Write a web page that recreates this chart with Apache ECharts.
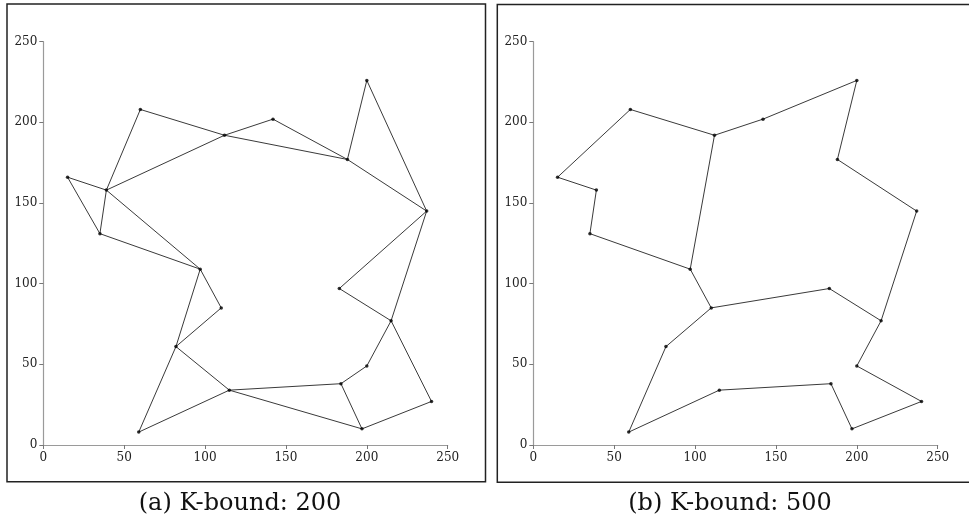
<!DOCTYPE html>
<html>
<head>
<meta charset="utf-8">
<script src="https://cdn.jsdelivr.net/npm/echarts@6/dist/echarts.min.js"></script>
<style>
html,body{margin:0;padding:0;background:#fff;}
#chart{width:969px;height:528px;}
</style>
</head>
<body>
<div id="chart"></div>
<script>
// Node coordinates (same city set in both panels)
const nodeX = [60, 142, 200, 112, 188, 237, 15, 39, 35, 97, 110, 82, 59, 115, 184, 200, 215, 183, 197, 240];
const nodeY = [208, 202, 226, 192, 177, 145, 166, 158, 131, 109, 85, 61, 8, 34, 38, 49, 77, 97, 10, 27];

// Edges as node index pairs
const edgesA = [[0,7],[0,3],[3,4],[7,3],[3,1],[1,4],[4,2],[2,5],[4,5],[5,17],[5,16],
  [6,7],[6,8],[7,8],[8,9],[7,9],[9,10],[9,11],[10,11],[11,12],[11,13],[12,13],
  [13,14],[13,18],[14,18],[14,15],[15,16],[17,16],[16,19],[19,18]];
const edgesB = [[0,6],[6,7],[7,8],[8,9],[9,3],[0,3],[3,1],[1,2],[2,4],[4,5],[5,16],
  [16,17],[17,10],[10,9],[10,11],[11,12],[12,13],[13,14],[14,18],[18,19],[19,15],[15,16]];

const axisTicks = [0, 50, 100, 150, 200, 250];
const panelTitles = ['(a) K-bound: 200', '(b) K-bound: 500'];

const chart = echarts.init(document.getElementById('chart'), null, {renderer: 'canvas'});

const gridLeft = [43.3, 533.3];
const gridTop = 41.7, gridW = 404.4, gridH = 403.3;

function axisCommon(idx, isY) {
  return {
    type: 'value', gridIndex: idx, min: axisTicks[0], max: axisTicks[axisTicks.length-1], interval: 50,
    axisLine: {show: true, onZero: false, lineStyle: {color: '#9a9a9a', width: 1.2}},
    axisTick: {show: true, length: 4, inside: false, lineStyle: {color: '#777', width: 1}},
    splitLine: {show: false},
    axisLabel: {color: '#222', fontFamily: 'DejaVu Serif', fontSize: 12, margin: isY ? 6 : 7}
  };
}

const points = nodeX.map((x, i) => [x, nodeY[i]]);
function edgeData(edges) {
  return edges.map(e => ({coords: [points[e[0]], points[e[1]]]}));
}

const series = [];
[edgesA, edgesB].forEach((edges, k) => {
  series.push({
    type: 'lines', coordinateSystem: 'cartesian2d', xAxisIndex: k, yAxisIndex: k,
    data: edgeData(edges), silent: true,
    lineStyle: {color: '#3a3a3a', width: 1, opacity: 1}
  });
  series.push({
    type: 'scatter', xAxisIndex: k, yAxisIndex: k, data: points,
    symbolSize: 3.5, itemStyle: {color: '#000'}, silent: true, z: 5
  });
});

chart.setOption({
  animation: false,
  backgroundColor: '#fff',
  grid: gridLeft.map(l => ({left: l, top: gridTop, width: gridW, height: gridH, containLabel: false})),
  xAxis: [axisCommon(0, false), axisCommon(1, false)],
  yAxis: [axisCommon(0, true), axisCommon(1, true)],
  series: series,
  graphic: [
    {type: 'rect', shape: {x: 7, y: 4, width: 478.5, height: 477.8}, style: {fill: 'none', stroke: '#222', lineWidth: 1.5}},
    {type: 'rect', shape: {x: 497.3, y: 4.6, width: 520, height: 477.6}, style: {fill: 'none', stroke: '#222', lineWidth: 1.5}},
    {type: 'text', x: 240, y: 504, style: {text: panelTitles[0], font: '24px "DejaVu Serif"', fill: '#111', align: 'center', verticalAlign: 'middle'}},
    {type: 'text', x: 730, y: 504, style: {text: panelTitles[1], font: '24px "DejaVu Serif"', fill: '#111', align: 'center', verticalAlign: 'middle'}}
  ]
});
</script>
</body>
</html>
